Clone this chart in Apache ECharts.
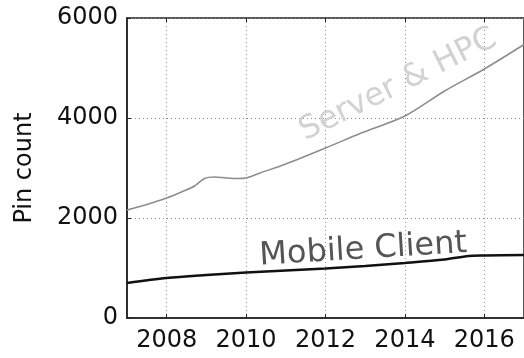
<!DOCTYPE html>
<html>
<head>
<meta charset="utf-8">
<script src="https://cdn.jsdelivr.net/npm/echarts@6/dist/echarts.min.js"></script>
<style>
  html, body { margin: 0; padding: 0; background: #fff; }
  #chart { width: 524px; height: 358px; }
</style>
</head>
<body>
<div id="chart"></div>
<script>
// Pin count projections by year
const serverYears  = [2007, 2007.5, 2008, 2008.4, 2008.7, 2008.95, 2009.2, 2009.5, 2009.8, 2010, 2010.35, 2011, 2012, 2012.9, 2014, 2015, 2016, 2017];
const serverPins   = [2160, 2270, 2400, 2530, 2640, 2790, 2820, 2800, 2790, 2800, 2900, 3080, 3400, 3700, 4040, 4540, 4980, 5470];
const mobileYears  = [2007, 2008, 2009, 2010, 2011, 2012, 2013, 2014, 2015, 2015.6, 2016, 2017];
const mobilePins   = [700, 800, 860, 910, 950, 990, 1040, 1100, 1170, 1240, 1250, 1260];
const yTicks       = [0, 2000, 4000, 6000];
const xTickYears   = [2008, 2010, 2012, 2014, 2016];

// Where the curve names sit, in data coordinates
const serverLabelAt = [2013.83, 4660];
const mobileLabelAt = [2012.95, 1360];

const pairs = (xs, ys) => xs.map((x, i) => [x, ys[i]]);

const FONT = 'DejaVu Sans';
const gridLine = { show: true, lineStyle: { color: '#8a8a8a', type: [1, 3], width: 1 } };

const chart = echarts.init(document.getElementById('chart'), null, { renderer: 'canvas' });
chart.setOption({
  animation: false,
  backgroundColor: '#fff',
  grid: { left: 127, top: 18, bottom: 40, width: 400, show: true, borderColor: '#222', borderWidth: 1.5 },
  xAxis: [{
    type: 'value', min: 2007, max: 2017,
    axisLine: { show: true, lineStyle: { color: '#222', width: 1.5 } },
    axisTick: { show: true, inside: true, length: 4, customValues: xTickYears, lineStyle: { color: '#222' } },
    axisLabel: {
      color: '#111', fontFamily: FONT, fontSize: 24, margin: 11,
      customValues: xTickYears, formatter: v => String(v)
    },
    splitLine: Object.assign({ customValues: xTickYears }, gridLine)
  }, {
    type: 'value', min: 2007, max: 2017, position: 'top',
    axisLine: { show: false },
    axisTick: { show: true, inside: true, length: 4, customValues: xTickYears, lineStyle: { color: '#222' } },
    axisLabel: { show: false },
    splitLine: { show: false }
  }],
  yAxis: {
    type: 'value', min: 0, max: 6000, interval: 2000,
    name: 'Pin count', nameLocation: 'middle', nameGap: 90,
    nameTextStyle: { color: '#111', fontFamily: FONT, fontSize: 24 },
    axisLine: { show: true, lineStyle: { color: '#222', width: 1.5 } },
    axisTick: { show: true, inside: true, length: 4, lineStyle: { color: '#222' } },
    axisLabel: {
      color: '#111', fontFamily: FONT, fontSize: 24, margin: 9,
      formatter: v => yTicks.includes(v) ? String(v) : ''
    },
    splitLine: gridLine
  },
  series: [{
    name: 'Server & HPC', type: 'line', xAxisIndex: 0,
    data: pairs(serverYears, serverPins),
    showSymbol: false, smooth: 0.3,
    lineStyle: { color: '#8c8c8c', width: 1.5 },
    markPoint: {
      symbol: 'circle', symbolSize: 0, silent: true,
      data: [{ coord: serverLabelAt, value: 'Server & HPC' }],
      label: {
        show: true, position: 'inside', rotate: 26.5,
        formatter: 'Server & HPC',
        color: '#d2d2d2', fontFamily: FONT, fontSize: 32
      }
    }
  }, {
    name: 'Mobile Client', type: 'line', xAxisIndex: 0,
    data: pairs(mobileYears, mobilePins),
    showSymbol: false, smooth: 0.3,
    lineStyle: { color: '#111', width: 2.4 },
    markPoint: {
      symbol: 'circle', symbolSize: 0, silent: true,
      data: [{ coord: mobileLabelAt, value: 'Mobile Client' }],
      label: {
        show: true, position: 'inside', rotate: 3.5,
        formatter: 'Mobile Client',
        color: '#555', fontFamily: FONT, fontSize: 32
      }
    }
  }]
});
</script>
</body>
</html>
